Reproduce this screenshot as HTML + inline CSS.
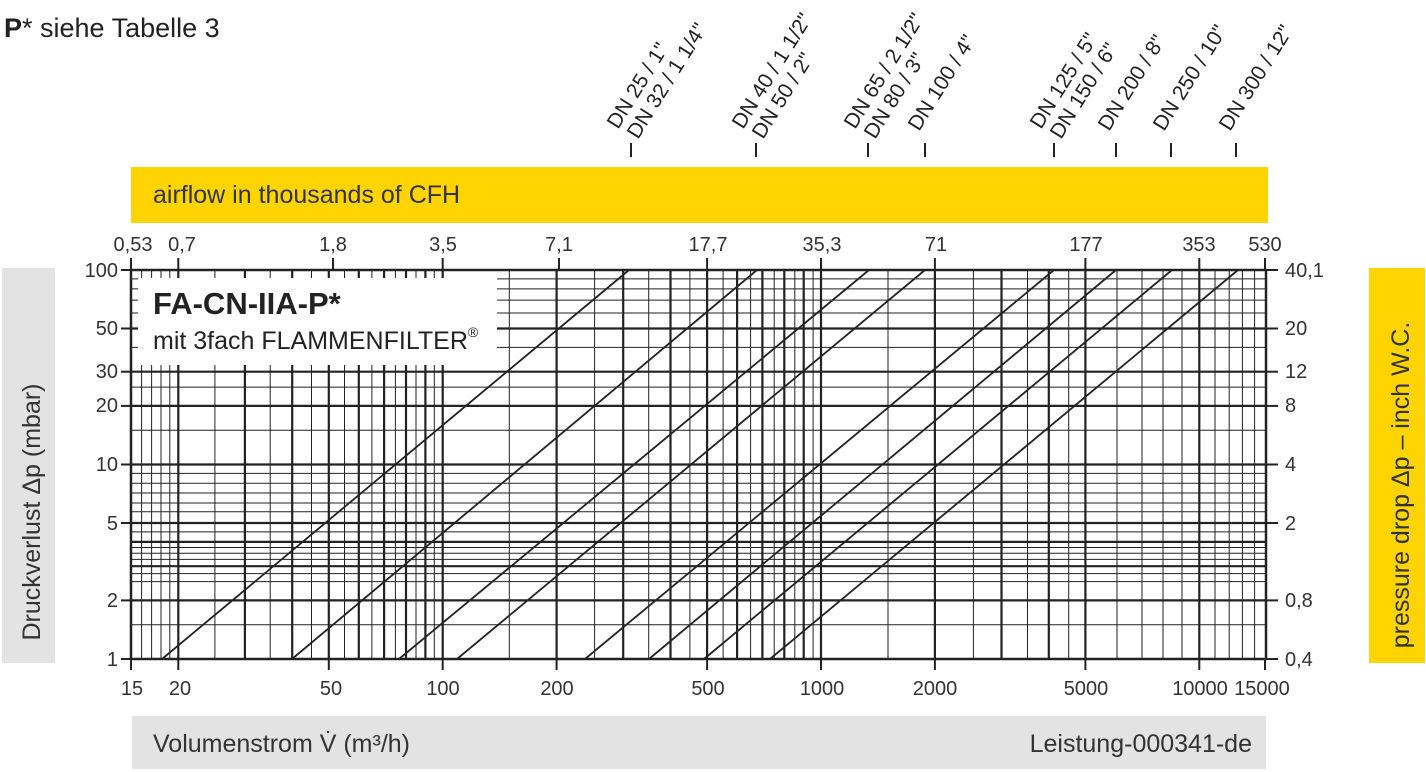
<!DOCTYPE html>
<html><head><meta charset="utf-8"><style>
html,body{margin:0;padding:0;background:#fff;}
svg{display:block;font-family:"Liberation Sans",Arial,sans-serif;}
</style></head><body>
<svg width="1426" height="772" viewBox="0 0 1426 772" xmlns="http://www.w3.org/2000/svg">
<rect width="1426" height="772" fill="#fff"/>
<text x="4" y="37" font-size="27" fill="#222"><tspan font-weight="bold">P</tspan>* siehe Tabelle 3</text>

<!-- DN labels -->
<g font-size="21" fill="#222">
<text transform="translate(618,130) rotate(-58)">DN 25 / 1"</text>
<text transform="translate(638,140) rotate(-58)">DN 32 / 1 1/4"</text>
<text transform="translate(743,130) rotate(-58)">DN 40 / 1 1/2"</text>
<text transform="translate(763,140) rotate(-58)">DN 50 / 2"</text>
<text transform="translate(855,130) rotate(-58)">DN 65 / 2 1/2"</text>
<text transform="translate(875,140) rotate(-58)">DN 80 / 3"</text>
<text transform="translate(919,132) rotate(-58)">DN 100 / 4"</text>
<text transform="translate(1041,130) rotate(-58)">DN 125 / 5"</text>
<text transform="translate(1061,140) rotate(-58)">DN 150 / 6"</text>
<text transform="translate(1109,132) rotate(-58)">DN 200 / 8"</text>
<text transform="translate(1164,132) rotate(-58)">DN 250 / 10"</text>
<text transform="translate(1230,132) rotate(-58)">DN 300 / 12"</text>
</g>
<g stroke="#222" stroke-width="2">
<line x1="631" y1="143" x2="631" y2="157"/><line x1="756" y1="143" x2="756" y2="157"/>
<line x1="868" y1="143" x2="868" y2="157"/><line x1="925" y1="143" x2="925" y2="157"/>
<line x1="1054" y1="143" x2="1054" y2="157"/><line x1="1116" y1="143" x2="1116" y2="157"/>
<line x1="1171" y1="143" x2="1171" y2="157"/><line x1="1236" y1="143" x2="1236" y2="157"/>
</g>

<!-- bands -->
<rect x="131" y="167" width="1137" height="56" fill="#FFD400"/>
<text x="153" y="203" font-size="25" fill="#333">airflow in thousands of CFH</text>
<rect x="2" y="268" width="53" height="395" fill="#e3e3e3"/>
<text transform="translate(40,512) rotate(-90)" text-anchor="middle" font-size="25" fill="#333">Druckverlust Δp (mbar)</text>
<rect x="1369" y="268" width="56" height="395" fill="#FFD400"/>
<text transform="translate(1409,485) rotate(-90)" text-anchor="middle" font-size="25" fill="#333">pressure drop Δp – inch W.C.</text>
<rect x="132" y="716" width="1134" height="53" fill="#e3e3e3"/>
<text x="153" y="752" font-size="25" fill="#333">Volumenstrom V̇ (m³/h)</text>
<text x="1252" y="752" font-size="25" fill="#333" text-anchor="end">Leistung-000341-de</text>

<!-- thin vertical grid -->
<g stroke="#222" stroke-width="1">
<line x1="141.6" y1="270" x2="141.6" y2="659"/><line x1="151.6" y1="270" x2="151.6" y2="659"/>
<line x1="161" y1="270" x2="161" y2="659"/><line x1="169.8" y1="270" x2="169.8" y2="659"/>
<line x1="214.9" y1="270" x2="214.9" y2="659"/><line x1="270.2" y1="270" x2="270.2" y2="659"/>
<line x1="311.5" y1="270" x2="311.5" y2="659"/><line x1="344.5" y1="270" x2="344.5" y2="659"/>
<line x1="371.9" y1="270" x2="371.9" y2="659"/><line x1="395.4" y1="270" x2="395.4" y2="659"/>
<line x1="416" y1="270" x2="416" y2="659"/><line x1="434.3" y1="270" x2="434.3" y2="659"/>
<line x1="509.3" y1="270" x2="509.3" y2="659"/><line x1="594.6" y1="270" x2="594.6" y2="659"/>
<line x1="648.7" y1="270" x2="648.7" y2="659"/><line x1="689.9" y1="270" x2="689.9" y2="659"/>
<line x1="723.1" y1="270" x2="723.1" y2="659"/><line x1="750.6" y1="270" x2="750.6" y2="659"/>
<line x1="774.2" y1="270" x2="774.2" y2="659"/><line x1="794.8" y1="270" x2="794.8" y2="659"/>
<line x1="813.1" y1="270" x2="813.1" y2="659"/><line x1="888" y1="270" x2="888" y2="659"/>
<line x1="973.4" y1="270" x2="973.4" y2="659"/><line x1="1027.5" y1="270" x2="1027.5" y2="659"/>
<line x1="1068.7" y1="270" x2="1068.7" y2="659"/><line x1="1117" y1="270" x2="1117" y2="659"/>
<line x1="1142" y1="270" x2="1142" y2="659"/><line x1="1163" y1="270" x2="1163" y2="659"/>
<line x1="1182" y1="270" x2="1182" y2="659"/><line x1="1215" y1="270" x2="1215" y2="659"/>
<line x1="1229.2" y1="270" x2="1229.2" y2="659"/><line x1="1242.4" y1="270" x2="1242.4" y2="659"/>
<line x1="1254.6" y1="270" x2="1254.6" y2="659"/>
<!-- thin horizontal -->
<line x1="131" y1="278.9" x2="1266" y2="278.9"/><line x1="131" y1="288.9" x2="1266" y2="288.9"/>
<line x1="131" y1="300.1" x2="1266" y2="300.1"/><line x1="131" y1="313" x2="1266" y2="313"/>
<line x1="131" y1="347.4" x2="1266" y2="347.4"/><line x1="131" y1="387.1" x2="1266" y2="387.1"/>
<line x1="131" y1="430.3" x2="1266" y2="430.3"/><line x1="131" y1="473.4" x2="1266" y2="473.4"/>
<line x1="131" y1="483.3" x2="1266" y2="483.3"/><line x1="131" y1="493" x2="1266" y2="493"/>
<line x1="131" y1="503" x2="1266" y2="503"/><line x1="131" y1="511.7" x2="1266" y2="511.7"/>
<line x1="131" y1="531.9" x2="1266" y2="531.9"/><line x1="131" y1="547.5" x2="1266" y2="547.5"/>
<line x1="131" y1="553.2" x2="1266" y2="553.2"/><line x1="131" y1="559.4" x2="1266" y2="559.4"/>
<line x1="131" y1="573.6" x2="1266" y2="573.6"/><line x1="131" y1="581.6" x2="1266" y2="581.6"/>
<line x1="131" y1="624.8" x2="1266" y2="624.8"/>
</g>
<!-- bold grid -->
<g stroke="#222" stroke-width="2.2">
<line x1="178.3" y1="270" x2="178.3" y2="659"/><line x1="244.9" y1="270" x2="244.9" y2="659"/>
<line x1="292.2" y1="270" x2="292.2" y2="659"/><line x1="328.8" y1="270" x2="328.8" y2="659"/>
<line x1="358.8" y1="270" x2="358.8" y2="659"/><line x1="384.1" y1="270" x2="384.1" y2="659"/>
<line x1="406" y1="270" x2="406" y2="659"/><line x1="425.4" y1="270" x2="425.4" y2="659"/>
<line x1="442.7" y1="270" x2="442.7" y2="659"/><line x1="556.6" y1="270" x2="556.6" y2="659"/>
<line x1="623.2" y1="270" x2="623.2" y2="659"/><line x1="670.5" y1="270" x2="670.5" y2="659"/>
<line x1="707.1" y1="270" x2="707.1" y2="659"/><line x1="737.1" y1="270" x2="737.1" y2="659"/>
<line x1="762.4" y1="270" x2="762.4" y2="659"/><line x1="784.3" y1="270" x2="784.3" y2="659"/>
<line x1="803.7" y1="270" x2="803.7" y2="659"/><line x1="821" y1="270" x2="821" y2="659"/>
<line x1="934.9" y1="270" x2="934.9" y2="659"/><line x1="1001.5" y1="270" x2="1001.5" y2="659"/>
<line x1="1048.8" y1="270" x2="1048.8" y2="659"/><line x1="1085.4" y1="270" x2="1085.4" y2="659"/>
<line x1="1199.3" y1="270" x2="1199.3" y2="659"/>
<line x1="131" y1="328.5" x2="1266" y2="328.5"/><line x1="131" y1="371.7" x2="1266" y2="371.7"/>
<line x1="131" y1="405.9" x2="1266" y2="405.9"/><line x1="131" y1="464.5" x2="1266" y2="464.5"/>
<line x1="131" y1="523" x2="1266" y2="523"/><line x1="131" y1="541.9" x2="1266" y2="541.9"/>
<line x1="131" y1="566.2" x2="1266" y2="566.2"/><line x1="131" y1="600.4" x2="1266" y2="600.4"/>
</g>
<!-- title box -->
<rect x="138" y="278" width="359" height="87" fill="#fff"/>
<text x="153" y="314" font-size="31" font-weight="bold" fill="#222">FA-CN-IIA-P*</text>
<text x="153" y="349" font-size="25" fill="#222">mit 3fach FLAMMENFILTER<tspan font-size="14" dy="-12">®</tspan></text>

<!-- border -->
<g stroke="#222" stroke-width="2.5" fill="none">
<rect x="131" y="270" width="1135" height="389"/>
</g>
<!-- ticks -->
<g stroke="#222" stroke-width="2">
<line x1="121" y1="270" x2="131" y2="270"/><line x1="121" y1="328.5" x2="131" y2="328.5"/>
<line x1="121" y1="371.7" x2="131" y2="371.7"/><line x1="121" y1="405.9" x2="131" y2="405.9"/>
<line x1="121" y1="464.5" x2="131" y2="464.5"/><line x1="121" y1="523" x2="131" y2="523"/>
<line x1="121" y1="600.4" x2="131" y2="600.4"/><line x1="121" y1="659" x2="131" y2="659"/>
<line x1="1266" y1="270" x2="1278" y2="270"/><line x1="1266" y1="328.5" x2="1278" y2="328.5"/>
<line x1="1266" y1="371.7" x2="1278" y2="371.7"/><line x1="1266" y1="405.9" x2="1278" y2="405.9"/>
<line x1="1266" y1="464.5" x2="1278" y2="464.5"/><line x1="1266" y1="523" x2="1278" y2="523"/>
<line x1="1266" y1="600.4" x2="1278" y2="600.4"/><line x1="1266" y1="659" x2="1278" y2="659"/>
<line x1="131" y1="258" x2="131" y2="270"/><line x1="178.3" y1="258" x2="178.3" y2="270"/>
<line x1="333" y1="258" x2="333" y2="270"/><line x1="442.7" y1="258" x2="442.7" y2="270"/>
<line x1="559" y1="258" x2="559" y2="270"/><line x1="707.1" y1="258" x2="707.1" y2="270"/>
<line x1="821" y1="258" x2="821" y2="270"/><line x1="934.9" y1="258" x2="934.9" y2="270"/>
<line x1="1085.4" y1="258" x2="1085.4" y2="270"/><line x1="1199.3" y1="258" x2="1199.3" y2="270"/>
<line x1="1265" y1="258" x2="1265" y2="270"/>
<line x1="131" y1="659" x2="131" y2="670"/><line x1="178.3" y1="659" x2="178.3" y2="670"/>
<line x1="328.8" y1="659" x2="328.8" y2="670"/><line x1="442.7" y1="659" x2="442.7" y2="670"/>
<line x1="556.6" y1="659" x2="556.6" y2="670"/><line x1="707.1" y1="659" x2="707.1" y2="670"/>
<line x1="821" y1="659" x2="821" y2="670"/><line x1="934.9" y1="659" x2="934.9" y2="670"/>
<line x1="1085.4" y1="659" x2="1085.4" y2="670"/><line x1="1199.3" y1="659" x2="1199.3" y2="670"/>
<line x1="1265" y1="659" x2="1265" y2="670"/>
</g>
<!-- series -->
<g stroke="#222" stroke-width="1.8">
<line x1="162" y1="659" x2="629" y2="270"/><line x1="292" y1="659" x2="757" y2="270"/>
<line x1="399" y1="659" x2="869" y2="270"/><line x1="457" y1="659" x2="925" y2="270"/>
<line x1="585" y1="659" x2="1054" y2="270"/><line x1="649" y1="659" x2="1116" y2="270"/>
<line x1="704" y1="659" x2="1172" y2="270"/><line x1="770" y1="659" x2="1238" y2="270"/>
</g>
<!-- labels -->
<g font-size="20" fill="#333" text-anchor="end">
<text x="118" y="277">100</text><text x="118" y="335">50</text><text x="118" y="378">30</text>
<text x="118" y="412">20</text><text x="118" y="471">10</text><text x="118" y="530">5</text>
<text x="118" y="607">2</text><text x="118" y="666">1</text>
</g>
<g font-size="20" fill="#333">
<text x="1285" y="277">40,1</text><text x="1285" y="335">20</text><text x="1285" y="378">12</text>
<text x="1285" y="412">8</text><text x="1285" y="471">4</text><text x="1285" y="530">2</text>
<text x="1285" y="607">0,8</text><text x="1285" y="666">0,4</text>
</g>
<g font-size="20" fill="#333" text-anchor="middle">
<text x="133" y="251">0,53</text><text x="182" y="251">0,7</text><text x="333" y="251">1,8</text>
<text x="443" y="251">3,5</text><text x="559" y="251">7,1</text><text x="708" y="251">17,7</text>
<text x="822" y="251">35,3</text><text x="936" y="251">71</text><text x="1086" y="251">177</text>
<text x="1199" y="251">353</text><text x="1265" y="251">530</text>
<text x="132" y="695">15</text><text x="180" y="695">20</text><text x="331" y="695">50</text>
<text x="443" y="695">100</text><text x="557" y="695">200</text><text x="708" y="695">500</text>
<text x="822" y="695">1000</text><text x="935" y="695">2000</text><text x="1086" y="695">5000</text>
<text x="1200" y="695">10000</text><text x="1262" y="695">15000</text>
</g>
</svg>
</body></html>
